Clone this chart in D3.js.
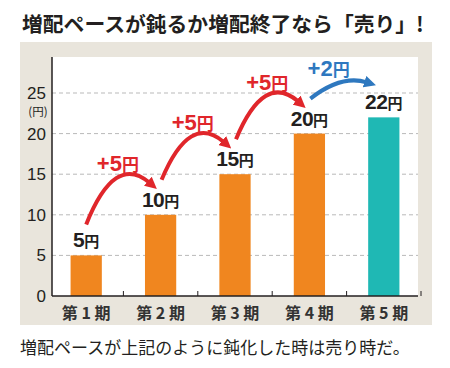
<!DOCTYPE html>
<html>
  <head>
    <meta charset="UTF-8">
    <title>増配ペース</title>
    <script src="https://d3js.org/d3.v7.min.js"></script>
    <style>
      body { margin: 0; background: #fff; }
      svg { display: block; }
    </style>
  </head>
  <body>
    <svg width="450" height="368"></svg>
    <script>
      const periods = ["第 1 期", "第 2 期", "第 3 期", "第 4 期", "第 5 期"];
      const dividends = [5, 10, 15, 20, 22];
      const barColors = ["#f0861f", "#f0861f", "#f0861f", "#f0861f", "#1fb8b4"];
      const arrowColors = ["#e0262b", "#e0262b", "#e0262b", "#2e78bf"];
      const yTicks = [0, 5, 10, 15, 20, 25];

      const title = "増配ペースが鈍るか増配終了なら「売り」!";
      const note = "増配ペースが上記のように鈍化した時は売り時だ。";

      const jp = "'Noto Sans CJK JP', sans-serif";
      const num = "'Liberation Sans', Arial, sans-serif";
      const ink = "#231f20";

      const svg = d3.select("svg");

      const x = d3.scaleBand()
        .domain(periods)
        .range([49, 421])
        .paddingInner(0.58)
        .paddingOuter(0.29);

      const y = d3.scaleLinear()
        .domain([0, 25])
        .range([296, 93]);

      // panel
      svg.append("rect")
        .attr("x", 20).attr("y", 42)
        .attr("width", 412).attr("height", 283)
        .attr("fill", "#e9e5dc");
      svg.append("rect")
        .attr("x", 52).attr("y", 57)
        .attr("width", 366).attr("height", y(0) - 57)
        .attr("fill", "#fff");

      // title
      svg.append("text")
        .attr("x", 22).attr("y", 32)
        .attr("font-family", jp)
        .attr("font-weight", "bold")
        .attr("font-size", 20.8)
        .attr("fill", ink)
        .text(title);

      // grid
      svg.append("g")
        .selectAll("line")
        .data(yTicks.filter(d => d > 0))
        .join("line")
        .attr("x1", 52).attr("x2", 418)
        .attr("y1", d => y(d)).attr("y2", d => y(d))
        .attr("stroke", "#b9b9b9")
        .attr("stroke-width", 1)
        .attr("stroke-dasharray", "4,3");

      // y axis
      const yAxis = svg.append("g")
        .attr("transform", "translate(52,0)")
        .call(d3.axisLeft(y).tickValues(yTicks).tickSize(0).tickPadding(6));
      yAxis.select(".domain").remove();
      yAxis.selectAll("text")
        .attr("font-family", num)
        .attr("font-size", 17)
        .attr("fill", ink);
      svg.append("line")
        .attr("x1", 52).attr("x2", 52)
        .attr("y1", 57).attr("y2", y(0))
        .attr("stroke", ink).attr("stroke-width", 1.5);
      svg.append("text")
        .attr("x", 38).attr("y", y(25) + 23)
        .attr("text-anchor", "middle")
        .attr("font-family", jp)
        .attr("font-size", 11.5)
        .attr("fill", ink)
        .text("(円)");

      // bars
      svg.append("g")
        .selectAll("rect")
        .data(dividends)
        .join("rect")
        .attr("x", (d, i) => x(periods[i]))
        .attr("y", d => y(d))
        .attr("width", x.bandwidth())
        .attr("height", d => y(0) - y(d))
        .attr("fill", (d, i) => barColors[i]);

      // x axis
      const step = x.step();
      svg.append("line")
        .attr("x1", 52).attr("x2", 418)
        .attr("y1", y(0)).attr("y2", y(0))
        .attr("stroke", ink).attr("stroke-width", 1.5);
      svg.append("g")
        .selectAll("line")
        .data(periods)
        .join("line")
        .attr("x1", d => x(d) + x.bandwidth() / 2 + step / 2)
        .attr("x2", d => x(d) + x.bandwidth() / 2 + step / 2)
        .attr("y1", y(0)).attr("y2", y(0) - 5)
        .attr("stroke", ink).attr("stroke-width", 1);
      svg.append("g")
        .selectAll("text")
        .data(periods)
        .join("text")
        .attr("x", d => x(d) + x.bandwidth() / 2)
        .attr("y", 319)
        .attr("text-anchor", "middle")
        .attr("font-family", jp)
        .attr("font-weight", "bold")
        .attr("font-size", 16)
        .attr("fill", "#333")
        .attr("xml:space", "preserve")
        .text(d => d);

      // value labels
      const vl = svg.append("g")
        .selectAll("text")
        .data(dividends)
        .join("text")
        .attr("x", (d, i) => x(periods[i]) + x.bandwidth() / 2)
        .attr("y", d => y(d) - 8)
        .attr("text-anchor", "middle")
        .attr("font-weight", "bold")
        .attr("fill", ink);
      vl.append("tspan")
        .attr("font-family", num)
        .attr("font-size", 21)
        .attr("letter-spacing", -0.5)
        .text(d => d);
      vl.append("tspan")
        .attr("font-family", jp)
        .attr("font-size", 15)
        .text("円");

      // arrows
      const defs = svg.append("defs");
      arrowColors.forEach((c, i) => {
        defs.append("marker")
          .attr("id", "ah" + i)
          .attr("markerUnits", "userSpaceOnUse")
          .attr("viewBox", "0 0 10 10")
          .attr("refX", 2).attr("refY", 5)
          .attr("markerWidth", 12).attr("markerHeight", 12)
          .attr("orient", "auto")
          .append("path")
          .attr("d", "M0,0 L10,5 L0,10 Z")
          .attr("fill", c);
      });

      const cx = i => x(periods[i]) + x.bandwidth() / 2;
      const arrows = dividends.slice(1).map((v, i) => {
        const last = i === dividends.length - 2;
        const x0 = cx(i) + (i === 0 ? 0 : 1);
        const y0 = y(dividends[i]) - (i === 0 ? 31 : 35);
        const x1 = cx(i + 1) - (last ? 17 : 11);
        const y1 = y(v) - (last ? 35 : 32);
        const top = Math.min(y0, y1) - (last ? 8 : 30);
        const qx = last ? x0 + 0.55 * (x1 - x0) : x0 + 0.45 * (x1 - x0);
        return { x0, y0, x1, y1, qx, qy: top, diff: v - dividends[i], color: arrowColors[i], i };
      });

      svg.append("g")
        .selectAll("path")
        .data(arrows)
        .join("path")
        .attr("d", d => `M${d.x0},${d.y0} Q${d.qx},${d.qy} ${d.x1},${d.y1}`)
        .attr("fill", "none")
        .attr("stroke", d => d.color)
        .attr("stroke-width", 4)
        .attr("marker-end", d => `url(#ah${d.i})`);

      const al = svg.append("g")
        .selectAll("text")
        .data(arrows)
        .join("text")
        .attr("x", d => (d.x0 + d.x1) / 2 + (d.i === 3 ? -10 : 0))
        .attr("y", d => Math.min(d.y0, d.y1) - (d.i === 3 ? 6 : 12))
        .attr("text-anchor", "middle")
        .attr("font-weight", "bold")
        .attr("fill", d => d.color);
      al.append("tspan")
        .attr("font-family", num)
        .attr("font-size", 22)
        .text(d => "+" + d.diff);
      al.append("tspan")
        .attr("font-family", jp)
        .attr("font-size", 17)
        .text("円");

      // note
      svg.append("text")
        .attr("x", 20).attr("y", 354)
        .attr("font-family", jp)
        .attr("font-size", 17)
        .attr("fill", ink)
        .text(note);
    </script>
  </body>
</html>
